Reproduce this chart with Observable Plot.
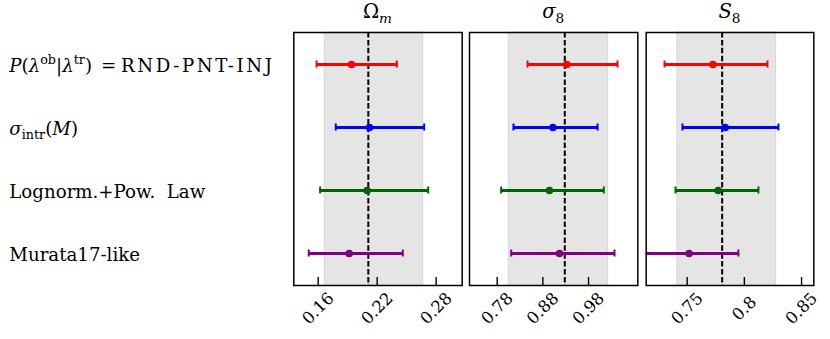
<!DOCTYPE html>
<html><head><meta charset="utf-8">
<script src="https://cdn.jsdelivr.net/npm/d3@7"></script>
<script src="https://cdn.jsdelivr.net/npm/@observablehq/plot@0.6"></script>
<style>
html,body{margin:0;padding:0;background:#fff;}
#chart{position:relative;width:830px;height:339px;overflow:hidden;background:#fff;}
#chart svg{position:absolute;left:0;top:0;}
</style></head><body><div id="chart"></div>
<script>
// ---- data ----
const rowKeys = ["rnd", "intr", "logn", "murata"];
const rowColors = ["#ff0000", "#0000ff", "#006400", "#800080"];
// label pieces: it = italic, sup = superscript, sub = subscript, ls = letter spacing
const rowLabelParts = [
  [{t:"P",it:1},{t:"("},{t:"λ",it:1},{t:"ob",sup:1},{t:"|"},{t:"λ",it:1},{t:"tr",sup:1},{t:")\u2002=\u2005"},{t:"RND-PNT-INJ",ls:2.6}],
  [{t:"σ",it:1},{t:"intr",sub:1},{t:"("},{t:"M",it:1},{t:")"}],
  [{t:"Lognorm.+Pow.  Law"}],
  [{t:"Murata17-like"}]
];
const panelTitles = [
  [{t:"Ω"},{t:"m",it:1,sub:1}],
  [{t:"σ",it:1},{t:"8",sub:1}],
  [{t:"S",it:1},{t:"8",sub:1}]
];
const omegaM_mid = [0.1939, 0.2122, 0.2098, 0.1915];
const omegaM_lo  = [0.1583, 0.1779, 0.1620, 0.1504];
const omegaM_hi  = [0.2400, 0.2678, 0.2719, 0.2461];
const sigma8_mid = [0.9324, 0.9021, 0.8945, 0.9165];
const sigma8_lo  = [0.8464, 0.8157, 0.7888, 0.8107];
const sigma8_hi  = [1.0434, 0.9999, 1.0135, 1.0369];
const S8_mid = [0.7725, 0.7832, 0.7771, 0.7517];
const S8_lo  = [0.7302, 0.7459, 0.7398, 0.7090];
const S8_hi  = [0.8202, 0.8298, 0.8123, 0.7948];
const fiducial = [0.2110, 0.9280, 0.7806];
const bandLo = [0.1667, 0.8054, 0.7415];
const bandHi = [0.2668, 1.0230, 0.8278];
const xLimits = [[0.1352, 0.3065], [0.7194, 1.0879], [0.7142, 0.8607]];
const tickValues = [[0.16, 0.22, 0.28], [0.78, 0.88, 0.98], [0.75, 0.80, 0.85]];
const tickLabels = [["0.16", "0.22", "0.28"], ["0.78", "0.88", "0.98"], ["0.75", "0.8", "0.85"]];

// ---- layout ----
const W = 830, H = 339, MT = 32, MB = 54, TICKLEN = 8;
const frameLeft = [293.3, 469, 645.7];
const frameRight = [461.7, 637.3, 813.3];
const mids = [omegaM_mid, sigma8_mid, S8_mid];
const los = [omegaM_lo, sigma8_lo, S8_lo];
const his = [omegaM_hi, sigma8_hi, S8_hi];
const chart = document.getElementById("chart");
const plots = [];

for (let p = 0; p < 3; p++) {
  const data = rowKeys.map((k, i) => ({row: k, mid: mids[p][i], lo: los[p][i], hi: his[p][i], color: rowColors[i]}));
  const ticks = tickValues[p];
  const plot = Plot.plot({
    width: W, height: H,
    marginLeft: frameLeft[p], marginRight: W - frameRight[p], marginTop: MT, marginBottom: MB,
    x: {domain: xLimits[p], axis: null},
    y: {type: "point", domain: rowKeys, padding: 0.5, axis: null},
    color: {type: "identity"},
    style: {background: "transparent", overflow: "visible"},
    marks: [
      Plot.rect([{a: bandLo[p], b: bandHi[p]}], {x1: "a", x2: "b", fill: "#e5e5e5", stroke: "#d6d6d6", strokeWidth: 1}),
      Plot.ruleX([fiducial[p]], {x: d => d, stroke: "black", strokeWidth: 2, strokeDasharray: "5.5,2.4"}),
      Plot.ruleY(data, {y: "row", x1: "lo", x2: "hi", stroke: "color", strokeWidth: 3, clip: true}),
      Plot.ruleX(data, {x: "lo", y1: "row", y2: "row", insetTop: -3.5, insetBottom: -3.5, stroke: "color", strokeWidth: 2, clip: true}),
      Plot.ruleX(data, {x: "hi", y1: "row", y2: "row", insetTop: -3.5, insetBottom: -3.5, stroke: "color", strokeWidth: 2, clip: true}),
      Plot.dot(data, {x: "mid", y: "row", r: 3.8, fill: "color", clip: true}),
      Plot.tickX(ticks, {x: d => d, insetTop: H - MT - MB - TICKLEN, stroke: "black", strokeWidth: 1.4}),
      Plot.axisX(ticks, {
        tickFormat: (d) => tickLabels[p][ticks.indexOf(d)],
        tickSize: 0, tickRotate: -45, textAnchor: "middle", lineAnchor: "middle",
        tickPadding: 23, fontSize: 16.5, fontFamily: "DejaVu Serif", fill: "black"
      }),
      Plot.frame({stroke: "black", strokeWidth: 1.5})
    ]
  });
  chart.appendChild(plot);
  plots.push(plot);
}

// ---- text overlay (titles and row labels) ----
const svg = d3.select(chart).append("svg").attr("width", W).attr("height", H)
  .style("font-family", "'DejaVu Serif'").style("overflow", "visible");

function writeParts(text, parts, baseSize) {
  let off = 0;
  text.style("white-space", "pre");
  parts.forEach(pt => {
    const target = pt.sup ? -7.5 : pt.sub ? 0.27 * baseSize : 0;
    const ts = text.append("tspan").text(pt.t).attr("dy", target - off);
    off = target;
    if (pt.it) ts.attr("font-style", "italic");
    if (pt.sup || pt.sub) ts.attr("font-size", baseSize * 0.7);
    if (pt.ls) ts.attr("letter-spacing", pt.ls);
  });
}

const yScale = plots[0].scale("y");
rowKeys.forEach((k, i) => {
  const t = svg.append("text").attr("x", 9.3).attr("y", yScale.apply(k) + 7.5)
    .attr("font-size", 18.2).attr("fill", "black");
  writeParts(t, rowLabelParts[i], 18.2);
});
plots.forEach((pl, p) => {
  const r = pl.scale("x").range;
  const cx = (r[0] + r[1]) / 2;
  const t = svg.append("text").attr("x", cx).attr("y", 18).attr("text-anchor", "middle")
    .attr("font-size", 19.5).attr("fill", "black");
  writeParts(t, panelTitles[p], 19.5);
});
</script></body></html>
